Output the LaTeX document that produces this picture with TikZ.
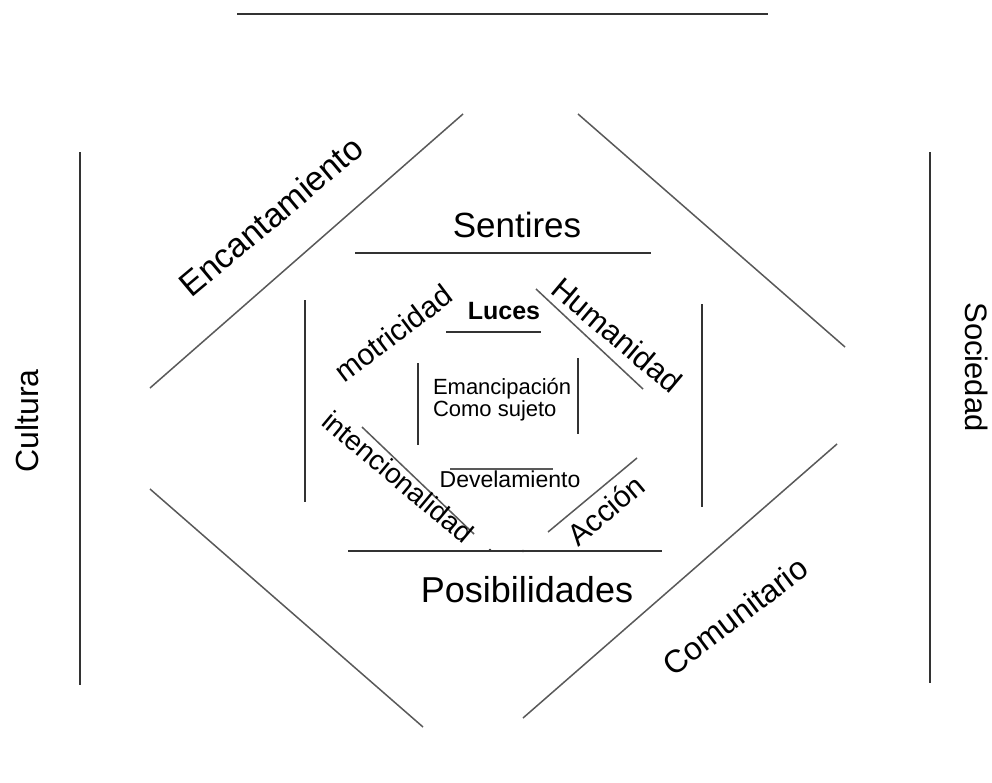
\documentclass[tikz,border=0pt]{standalone}
\usepackage{fontspec}
\setmainfont{Liberation Sans}
\begin{document}
\begin{tikzpicture}[x=1pt,y=-1pt,
  ln/.style={line width=1.6pt,draw=black!80},
  dg/.style={line width=1.5pt,draw=black!65},
  lbl/.style={inner sep=0pt,outer sep=0pt,text=black},
  fs/.style={font=\fontsize{#1}{#1}\selectfont}]
\useasboundingbox (0,0) rectangle (992,782);
\fill[white] (0,0) rectangle (992,782);
% outer frame
\draw[ln] (237,14) -- (768,14);
\draw[ln] (80,152) -- (80,685);
\draw[ln] (930,152) -- (930,683);
\draw[dg] (150,388) -- (463,114);
\draw[dg] (578,114) -- (845,347);
\draw[dg] (150,489) -- (423,727);
\draw[dg] (837,444) -- (523,718);
% middle frame
\draw[ln] (355,253) -- (651,253);
\draw[ln] (305,300) -- (305,502);
\draw[ln] (702,304) -- (702,507);
\draw[ln] (348,551) -- (662,551);
\fill[black!80] (490,550) circle (1.3) (523,551) circle (1.3);
\draw[dg] (536,289) -- (643,389);
\draw[dg] (362,427) -- (474,534);
\draw[dg] (637,458) -- (548,532);
% inner frame
\draw[ln] (446,332) -- (541,332);
\draw[ln] (418,363) -- (418,445);
\draw[ln] (578,358) -- (578,434);
\draw[dg] (450,469) -- (553,469);
% labels
\node[lbl,fs=32,rotate=90] (cultura) at (27,421) {Cultura};
\node[lbl,fs=31,rotate=-90] (sociedad) at (977,367) {Sociedad};
\node[lbl,fs=34,rotate=40] (encant) at (271,216) {Encantamiento};
\node[lbl,fs=32,rotate=37] (comun) at (735,616) {Comunitario};
\node[lbl,fs=35,anchor=base] (sentires) at (517,237) {Sentires};
\node[lbl,fs=36,anchor=base] (posib) at (527,602) {Posibilidades};
\node[lbl,fs=30,rotate=37] (motri) at (393,333) {motricidad};
\node[lbl,fs=31,rotate=-40] (human) at (617,335) {Humanidad};
\node[lbl,fs=28,rotate=-40] (intenc) at (398,477) {intencionalidad};
\node[lbl,fs=30,rotate=40] (accion) at (606,510) {Acción};
\node[lbl,anchor=base,font=\fontsize{25}{25}\selectfont\bfseries] (luces) at (504,319) {Luces};
\node[lbl,fs=22,anchor=base west] (eman) at (433,394) {Emancipación};
\node[lbl,fs=22,anchor=base west] (sujeto) at (433,416) {Como sujeto};
\node[lbl,fs=23,anchor=base] (devel) at (510,487) {Develamiento};
\end{tikzpicture}
\end{document}
